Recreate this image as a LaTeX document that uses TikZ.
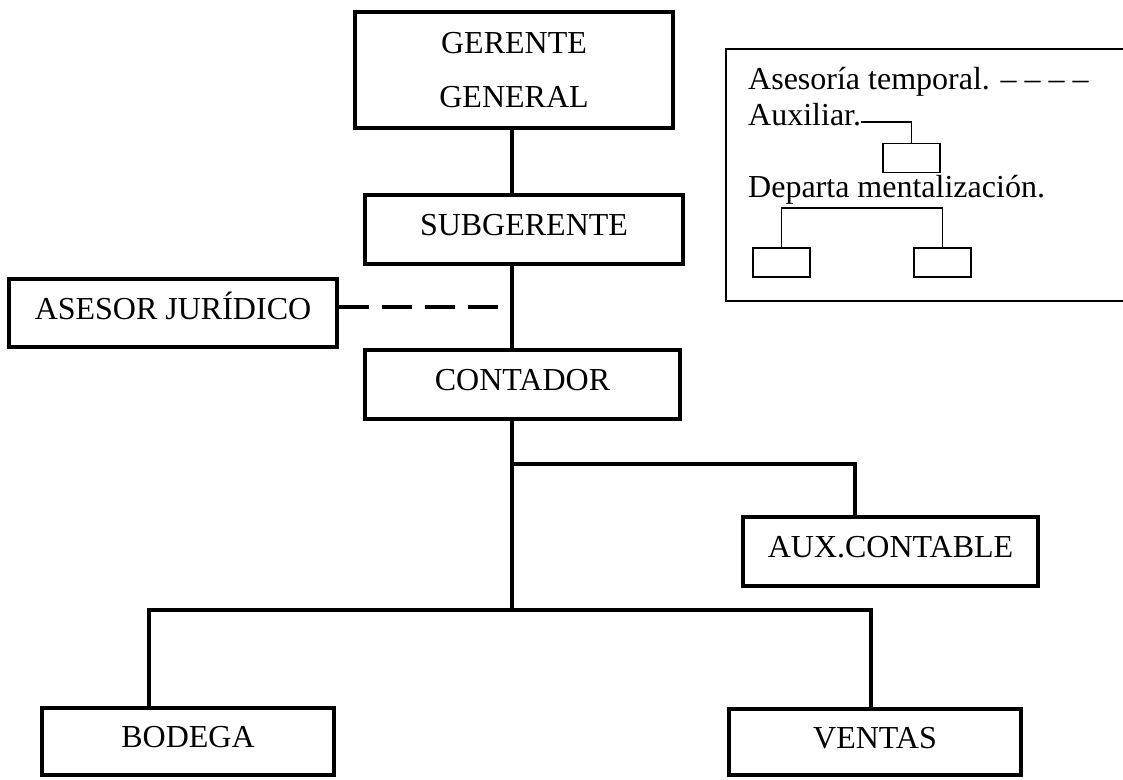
\documentclass[tikz,border=0pt]{standalone}
\usepackage{fontspec}
\setmainfont{Liberation Serif}
\tikzset{
  puesto/.style={draw, line width=4pt, font=\fontsize{32}{54}\selectfont, inner sep=0pt},
  cargo/.style={puesto, text height=22pt, text depth=10pt},
  conector/.style={line width=3.5pt},
  leyenda/.style={anchor=base west, inner sep=0pt, font=\fontsize{32}{38}\selectfont},
  cajita/.style={draw, line width=1.5pt, minimum width=57pt, minimum height=29pt, inner sep=0pt}
}

\begin{document}
\begin{tikzpicture}[x=1pt, y=-1pt]
    \useasboundingbox (0,0) rectangle (1123,779);
    \node[puesto, align=center, minimum width=318pt, minimum height=116pt] (gg) at (514,70) {GERENTE\\GENERAL};
    \node[cargo, minimum width=318pt, minimum height=69pt] (sub) at (524,229.5) {SUBGERENTE};
    \node[cargo, minimum width=328pt, minimum height=68pt] (ase) at (173,313) {ASESOR JURÍDICO};
    \node[cargo, minimum width=315pt, minimum height=69pt] (con) at (522.5,384.5) {CONTADOR};
    \node[cargo, minimum width=295pt, minimum height=69pt] (aux) at (890.5,551.5) {AUX.CONTABLE};
    \node[cargo, minimum width=292pt, minimum height=67pt] (bod) at (188,741.5) {BODEGA};
    \node[cargo, minimum width=292pt, minimum height=66pt] (ven) at (875,742) {VENTAS};

    \coordinate (eje) at (512,0);
    \coordinate (rama1) at (512,464);
    \coordinate (rama2) at (512,610);
    \draw[conector] (eje |- gg.south) -- (eje |- sub.north);
    \draw[conector] (eje |- sub.south) -- (eje |- con.north);
    \draw[line width=4pt, dash pattern=on 30pt off 13pt] ([yshift=6pt]ase.east) -- ([yshift=6pt]ase.east -| eje);
    \draw[conector] (eje |- con.south) -- (rama2);
    \draw[conector] (rama1) -| ([xshift=-35.5pt]aux.north);
    \draw[conector] ([xshift=-39pt]bod.north) |- (rama2) -| ([xshift=-4pt]ven.north);

    \draw[line width=2pt] (1123,49) -- (726,49) -- (726,301) -- (1123,301);
    \node[leyenda] (asetxt) at (748,89) {Asesoría temporal. – – – –};
    \node[leyenda] (auxtxt) at (748,125) {Auxiliar.};
    \node[leyenda] (deptxt) at (748,197) {Departa mentalización.};
    \node[cajita] (leyaux) at (911.5,158) {};
    \node[cajita] (leydep1) at (781.5,262.5) {};
    \node[cajita] (leydep2) at (942.5,262.5) {};
    \coordinate (depbarra) at (862,208);
    \draw[line width=1.5pt] ([yshift=3pt]auxtxt.base east) -| (leyaux.north);
    \draw[line width=1.5pt] (leydep1.north) |- (depbarra) -| (leydep2.north);
\end{tikzpicture}
\end{document}
